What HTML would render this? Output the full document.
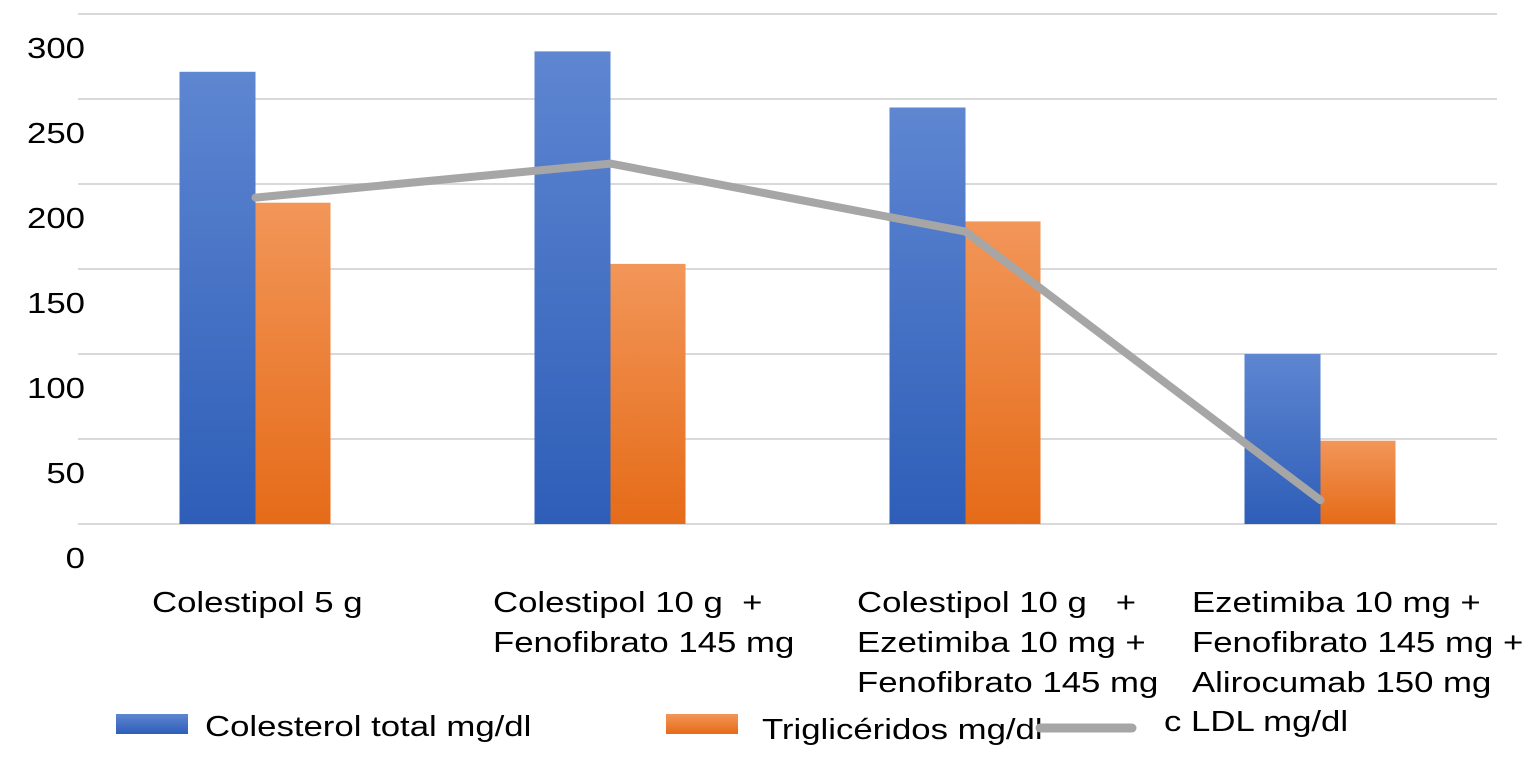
<!DOCTYPE html>
<html><head><meta charset="utf-8"><style>
body{margin:0;background:#fff;width:1533px;height:757px;overflow:hidden;font-family:"Liberation Sans",Arial,sans-serif}
svg text{font-family:"Liberation Sans",Arial,sans-serif;fill:#000;white-space:pre}
</style></head><body>
<svg id="chart" width="1533" height="757" xmlns="http://www.w3.org/2000/svg">
<defs>
<linearGradient id="gb" x1="0" y1="0" x2="0" y2="1"><stop offset="0" stop-color="#5e86d1"/><stop offset="1" stop-color="#2e5eb8"/></linearGradient>
<linearGradient id="go" x1="0" y1="0" x2="0" y2="1"><stop offset="0" stop-color="#f29659"/><stop offset="1" stop-color="#e56b18"/></linearGradient>
</defs>
<g id="grid"></g><g id="bars"></g><g id="line"></g><g id="yl"></g><g id="xl"></g>
<g>
<rect x="116" y="714" width="72" height="20" fill="url(#gb)"/>
<text transform="translate(205,736) scale(1.22,1)" font-size="28.5">Colesterol total mg/dl</text>
<rect x="666" y="714" width="72" height="20" fill="url(#go)"/>
<text transform="translate(762,739) scale(1.22,1)" font-size="28.5">Triglicéridos mg/dl</text>
<line x1="1040" y1="728" x2="1132" y2="728" stroke="#a6a6a6" stroke-width="9" stroke-linecap="round"/>
<text transform="translate(1164,731) scale(1.22,1)" font-size="28.5">c LDL mg/dl</text>
</g>
</svg>
<script>
const categories=[["Colestipol 5 g"],["Colestipol 10 g  +","Fenofibrato 145 mg"],["Colestipol 10 g   +","Ezetimiba 10 mg +","Fenofibrato 145 mg"],["Ezetimiba 10 mg +","Fenofibrato 145 mg +","Alirocumab 150 mg"]];
const colesterol=[266,278,245,100];
const trigliceridos=[189,153,178,49];
const ldl=[192,212,172,14];
const yTicks=[0,50,100,150,200,250,300];
const NS="http://www.w3.org/2000/svg";
const x0=78,cw=355,y0=524,pxPer=1.7;
const xc=i=>x0+cw*i+cw/2;
const y=v=>y0-v*pxPer;
function mk(t,a,p){const e=document.createElementNS(NS,t);for(const k in a)e.setAttribute(k,a[k]);p.appendChild(e);return e;}
const grid=document.getElementById('grid'),yl=document.getElementById('yl');
yTicks.forEach(v=>{
 const l=mk('line',{x1:78,x2:1497,y1:y(v),y2:y(v),stroke:'#d9d9d9','stroke-width':2},grid);
 
 
 const t=mk('text',{transform:'translate(85,'+(y(v)+44)+') scale(1.22,1)','font-size':28.5,'text-anchor':'end'},yl);
 t.textContent=v;
 
 
});
const bars=document.getElementById('bars');
colesterol.forEach((v,i)=>{
 const r=mk('rect',{x:xc(i)-76,y:y(v),width:76,height:v*pxPer,fill:'url(#gb)'},bars);
 
 
});
trigliceridos.forEach((v,i)=>{
 const r=mk('rect',{x:xc(i),y:y(v),width:75,height:v*pxPer,fill:'url(#go)'},bars);
 
 
});
const pl=mk('polyline',{points:ldl.map((v,i)=>xc(i)+','+y(v)).join(' '),fill:'none',stroke:'#a6a6a6','stroke-width':8,'stroke-linejoin':'round','stroke-linecap':'round'},document.getElementById('line'));


const xl=document.getElementById('xl');
const lx=[152,493,857,1192];
categories.forEach((c,i)=>{
 c.forEach((s,j)=>{
  const t=mk('text',{transform:'translate('+lx[i]+','+(612+j*40)+') scale(1.22,1)','font-size':28.5},xl);
  t.textContent=s;
  
  
 });
});
</script>
</body></html>
